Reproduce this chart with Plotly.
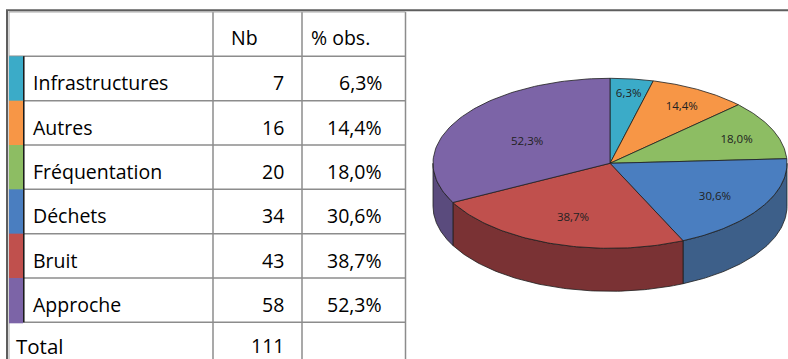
import numpy as np
import plotly.graph_objects as go

# ---- data ----
categories = ["Infrastructures", "Autres", "Fréquentation", "Déchets", "Bruit", "Approche"]
counts = [7, 16, 20, 34, 43, 58]
pct_obs = [6.3, 14.4, 18.0, 30.6, 38.7, 52.3]
total_count = 111
header_labels = ["Nb", "% obs."]
total_label = "Total"

# ---- styles ----
top_colors = ["#3BABC8", "#F79646", "#8DBD63", "#4A7EC0", "#C0504D", "#7C64A7"]
wall_colors = ["#2B7D93", "#B56D33", "#678A48", "#3D5F89", "#7A3234", "#5A4B7D"]
FONT = "Open Sans"
W, H = 788, 359


def fmt_pct(v):
    return f"{v:.1f}".replace(".", ",") + "%"


fig = go.Figure()
shapes = []
annotations = []

# ---- table ----
tbl_left, tbl_right = 9, 405.5
col_nb, col_pct = 213, 302
strip_w = 14
row_top0, row_h = 12, 44.33
n_rows = len(categories) + 2
grid = dict(color="#8C8C8C", width=1.5)


def row_top(i):
    return row_top0 + i * row_h


# horizontal rules between rows
for i in range(1, n_rows):
    shapes.append(dict(type="line", xref="x", yref="y", x0=tbl_left, x1=tbl_right,
                       y0=row_top(i), y1=row_top(i), line=grid))
# column rules and right border
for xc in (col_nb, col_pct, tbl_right):
    shapes.append(dict(type="line", xref="x", yref="y", x0=xc, x1=xc,
                       y0=row_top0, y1=H + 5, line=grid))
# inner light border of the table
shapes.append(dict(type="line", xref="x", yref="y", x0=tbl_left, x1=tbl_right,
                   y0=row_top0, y1=row_top0, line=dict(color="#A8A8A8", width=1)))
shapes.append(dict(type="line", xref="x", yref="y", x0=tbl_left, x1=tbl_left,
                   y0=row_top0, y1=H + 5, line=dict(color="#A8A8A8", width=1)))
# outer dark frame
frame = dict(color="#5E5E5E", width=2)
shapes.append(dict(type="line", xref="x", yref="y", x0=6, x1=W + 5, y0=10.3, y1=10.3, line=frame))
shapes.append(dict(type="line", xref="x", yref="y", x0=7, x1=7, y0=10.3, y1=H + 5, line=frame))

# colour strips for each category row
for k, col in enumerate(top_colors):
    y0 = row_top(k + 1)
    shapes.append(dict(type="rect", xref="x", yref="y", x0=tbl_left, x1=tbl_left + strip_w,
                       y0=y0, y1=y0 + row_h + 1, fillcolor=col, line=dict(width=0), layer="above"))
    shapes.append(dict(type="line", xref="x", yref="y", x0=tbl_left + strip_w + 0.8,
                       x1=tbl_left + strip_w + 0.8, y0=y0, y1=y0 + row_h,
                       line=dict(color="#111111", width=1.5), layer="above"))

txt = dict(family=FONT, size=19.5, color="#000000")


def cell_text(x, y, s, anchor, font=txt):
    annotations.append(dict(x=x, y=y, xref="x", yref="y", text=s, showarrow=False,
                            xanchor=anchor, yanchor="middle", font=font))


# header row
cell_text(col_nb + 16, row_top(0) + 25, header_labels[0], "left")
cell_text(col_pct + 7, row_top(0) + 25, header_labels[1], "left")
# category rows
for k, (name, n, p) in enumerate(zip(categories, counts, pct_obs)):
    yc = row_top(k + 1) + 26.5
    cell_text(31, yc, name, "left")
    cell_text(col_pct - 16, yc, str(n), "right")
    cell_text(tbl_right - 22, yc, fmt_pct(p), "right")
# total row
yt = row_top(n_rows - 1) + 23.5
cell_text(14, yt, total_label, "left", dict(family=FONT, size=20.5, color="#000000"))
cell_text(col_pct - 16, yt, str(total_count), "right")

# ---- 3D pie ----
cx, cy, rx, ry, depth = 610, 163.3, 177, 85, 43
edge = dict(color="#1E1E1E", width=0.8)
vals = np.array(pct_obs, dtype=float)
bounds = np.concatenate([[0.0], np.cumsum(vals)]) / vals.sum() * 360.0


def ellipse_pts(a, b, dy=0.0, n=80):
    th = np.radians(np.linspace(a, b, n))
    return cx + rx * np.sin(th), cy - ry * np.cos(th) + dy


# side walls (front half only: 90..270 deg clockwise from 12 o'clock)
for k in range(len(vals)):
    a, b = max(bounds[k], 90.0), min(bounds[k + 1], 270.0)
    if b <= a:
        continue
    xt, yt_ = ellipse_pts(a, b)
    xb, yb = ellipse_pts(b, a, depth)
    fig.add_trace(go.Scatter(x=np.concatenate([xt, xb, xt[:1]]), y=np.concatenate([yt_, yb, yt_[:1]]),
                             mode="lines", fill="toself", fillcolor=wall_colors[k], line=edge,
                             hoverinfo="skip", showlegend=False))

# top faces
for k in range(len(vals)):
    xa, ya = ellipse_pts(bounds[k], bounds[k + 1])
    fig.add_trace(go.Scatter(x=np.concatenate([[cx], xa, [cx]]), y=np.concatenate([[cy], ya, [cy]]),
                             mode="lines", fill="toself", fillcolor=top_colors[k], line=edge,
                             hoverinfo="skip", showlegend=False, name=categories[k]))

# slice labels: small slices get pushed further out
mids = (bounds[:-1] + bounds[1:]) / 2
spans = np.diff(bounds)
frac = 0.9 - 0.003 * spans
lx = cx + frac * rx * np.sin(np.radians(mids))
ly = cy - frac * ry * np.cos(np.radians(mids)) + 3
fig.add_trace(go.Scatter(x=lx, y=ly, mode="text", text=[fmt_pct(v) for v in vals],
                         textfont=dict(family=FONT, size=11.5, color="#222222"),
                         hoverinfo="skip", showlegend=False))

fig.update_layout(
    width=W, height=H, autosize=False,
    margin=dict(l=0, r=0, t=0, b=0),
    paper_bgcolor="white", plot_bgcolor="white",
    xaxis=dict(range=[0, W], visible=False, fixedrange=True),
    yaxis=dict(range=[H, 0], visible=False, fixedrange=True),
    shapes=shapes, annotations=annotations,
)

fig.write_html("out.html")
